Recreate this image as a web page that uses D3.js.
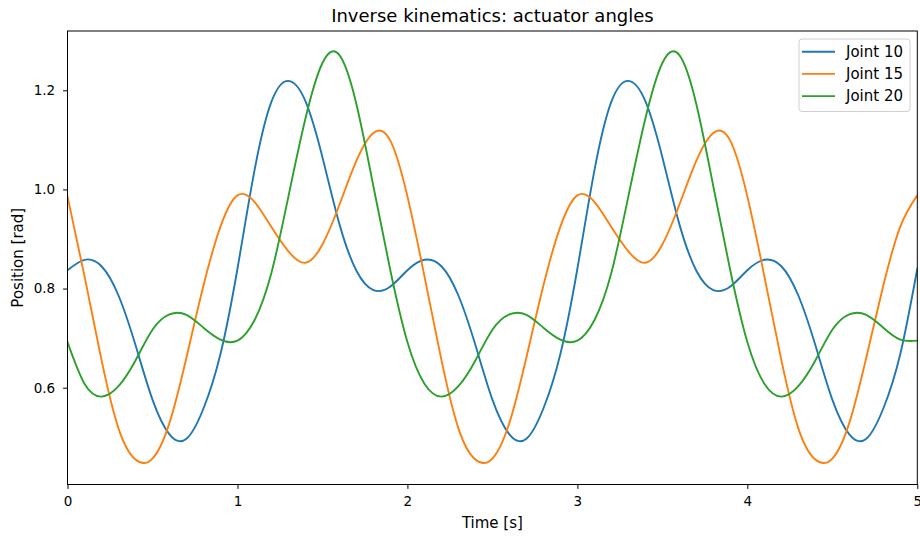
<!DOCTYPE html>
<html>
<head>
<meta charset="utf-8">
<script src="https://cdn.jsdelivr.net/npm/d3@7"></script>
<style>
  html, body { margin: 0; padding: 0; background: #fff; }
  svg { display: block; font-family: "DejaVu Sans", sans-serif; }
</style>
</head>
<body>
<svg id="chart" width="920" height="538"></svg>
<script>
// ---- data ----
const time = [0.0,0.1,0.2,0.3,0.4,0.5,0.6,0.7,0.8,0.9,1.0,1.1,1.2,1.3,1.4,1.5,1.6,1.7,1.8,1.9,
              2.0,2.1,2.2,2.3,2.4,2.5,2.6,2.7,2.8,2.9,3.0,3.1,3.2,3.3,3.4,3.5,3.6,3.7,3.8,3.9,
              4.0,4.1,4.2,4.3,4.4,4.5,4.6,4.7,4.8,4.9,5.0];
const joint10 = [0.837,0.858,0.845,0.786,0.686,0.576,0.506,0.497,0.558,0.668,0.840,1.038,1.177,1.219,1.178,1.065,0.930,0.836,0.797,0.804,
                 0.837,0.858,0.845,0.786,0.686,0.576,0.506,0.497,0.558,0.668,0.840,1.038,1.177,1.219,1.178,1.065,0.930,0.836,0.797,0.804,
                 0.837,0.858,0.845,0.786,0.686,0.576,0.506,0.497,0.558,0.668,0.840];
const joint15 = [0.986,0.825,0.656,0.518,0.455,0.457,0.529,0.661,0.806,0.925,0.988,0.975,0.924,0.875,0.852,0.889,0.969,1.058,1.114,1.098,
                 0.986,0.825,0.656,0.518,0.455,0.457,0.529,0.661,0.806,0.925,0.988,0.975,0.924,0.875,0.852,0.889,0.969,1.058,1.114,1.098,
                 0.986,0.825,0.656,0.518,0.455,0.457,0.529,0.661,0.806,0.925,0.988];
const joint20 = [0.692,0.608,0.582,0.603,0.655,0.717,0.748,0.747,0.721,0.697,0.695,0.736,0.832,0.986,1.143,1.255,1.271,1.172,1.006,0.836,
                 0.692,0.608,0.582,0.603,0.655,0.717,0.748,0.747,0.721,0.697,0.695,0.736,0.832,0.986,1.143,1.255,1.271,1.172,1.006,0.836,
                 0.692,0.608,0.582,0.603,0.655,0.717,0.748,0.747,0.721,0.697,0.695];
const seriesNames = ["Joint 10", "Joint 15", "Joint 20"];
const xTicks = [0, 1, 2, 3, 4, 5];
const yTicks = [0.6, 0.8, 1.0, 1.2];
const titleText = "Inverse kinematics: actuator angles";
const xLabel = "Time [s]";
const yLabel = "Position [rad]";

// ---- layout ----
const colors = ["#1f77b4", "#ff7f0e", "#2ca02c"];
const svg = d3.select("#chart");
const L = 67.5, R = 917.3, T = 31, B = 484.5;
const x = d3.scaleLinear().domain([0, 5]).range([L, R]);
const y = d3.scaleLinear().domain([0.4047, 1.3196]).range([B, T]);

const series = [joint10, joint15, joint20];

svg.append("clipPath").attr("id", "clip")
  .append("rect").attr("x", L).attr("y", T).attr("width", R - L).attr("height", B - T);

const line = d3.line()
  .x((d, i) => x(time[i]))
  .y(d => y(d))
  .curve(d3.curveNatural);

const g = svg.append("g").attr("clip-path", "url(#clip)");
series.forEach((s, k) => {
  g.append("path").datum(s)
    .attr("d", line)
    .attr("fill", "none")
    .attr("stroke", colors[k])
    .attr("stroke-width", 1.9)
    .attr("stroke-linejoin", "round")
    .attr("stroke-linecap", "square");
});

// axes
const xAxis = d3.axisBottom(x).tickValues(xTicks).tickFormat(d3.format("d")).tickSizeOuter(0).tickSize(4.4).tickPadding(8);
const yAxis = d3.axisLeft(y).tickValues(yTicks).tickFormat(d3.format(".1f")).tickSizeOuter(0).tickSize(4.4).tickPadding(8);

const gx = svg.append("g").attr("transform", `translate(0,${B})`).call(xAxis);
const gy = svg.append("g").attr("transform", `translate(${L},0)`).call(yAxis);
[gx, gy].forEach(a => {
  a.select(".domain").remove();
  a.selectAll(".tick line").attr("stroke", "#000").attr("stroke-width", 1);
  a.selectAll(".tick text").attr("fill", "#000").style("font-size", "13.5px").style("font-family", "DejaVu Sans");
});

// frame
svg.append("rect").attr("x", L).attr("y", T).attr("width", R - L).attr("height", B - T)
  .attr("fill", "none").attr("stroke", "#000").attr("stroke-width", 1);

// title & labels
svg.append("text").attr("x", (L + R) / 2).attr("y", 22).attr("text-anchor", "middle")
  .style("font-size", "18px").text(titleText);
svg.append("text").attr("x", (L + R) / 2).attr("y", 528).attr("text-anchor", "middle")
  .style("font-size", "15px").text(xLabel);
svg.append("text").attr("transform", `translate(23.3,${(T + B) / 2}) rotate(-90)`).attr("text-anchor", "middle")
  .style("font-size", "15px").text(yLabel);

// legend
const lg = svg.append("g");
lg.append("rect").attr("x", 799).attr("y", 39).attr("width", 111).attr("height", 72.5)
  .attr("rx", 3).attr("fill", "#fff").attr("fill-opacity", 0.8)
  .attr("stroke", "#d0d0d0").attr("stroke-width", 1);
seriesNames.forEach((n, k) => {
  const yy = 51.7 + k * 22.2;
  lg.append("line").attr("x1", 802).attr("x2", 835).attr("y1", yy).attr("y2", yy)
    .attr("stroke", colors[k]).attr("stroke-width", 1.9);
  lg.append("text").attr("x", 846).attr("y", yy + 5).style("font-size", "15px").text(n);
});
</script>
</body>
</html>
